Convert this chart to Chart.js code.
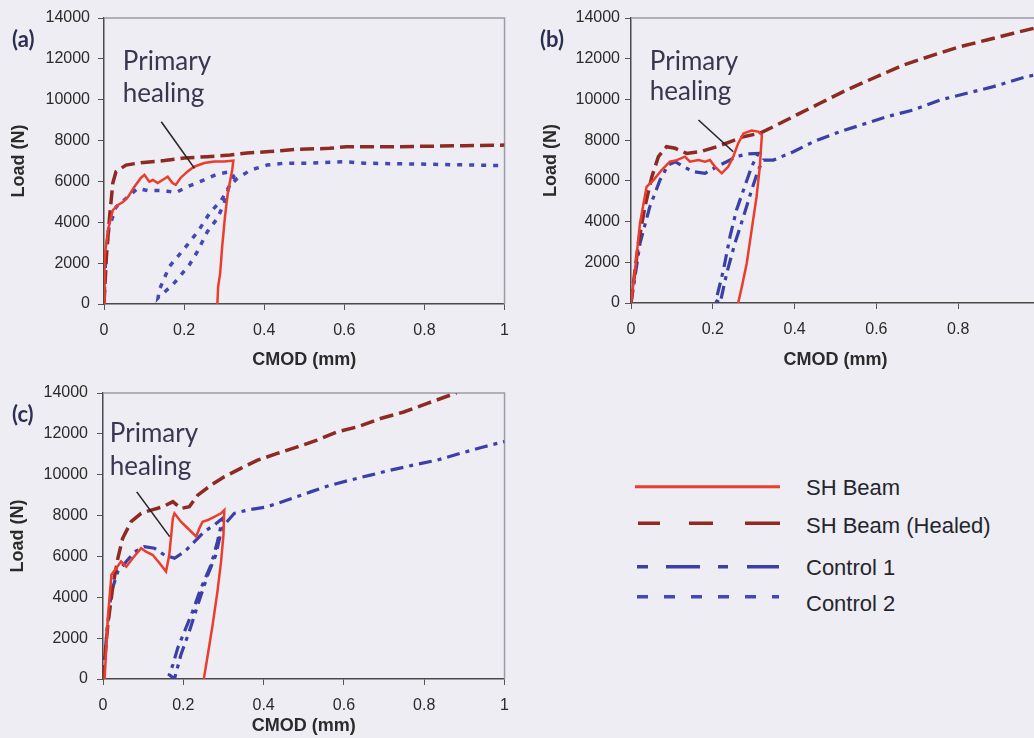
<!DOCTYPE html>
<html>
<head>
<meta charset="utf-8">
<script src="https://cdn.jsdelivr.net/npm/chart.js@4.4.1/dist/chart.umd.min.js"></script>
<style>
  html, body { margin: 0; padding: 0; background: #ededf3; width: 1034px; height: 738px; overflow: hidden; position: relative; }
  canvas { position: absolute; }
  #legend { position: absolute; left: 630px; top: 470px; }
  #legend text { font-family: 'Liberation Sans', Arial, sans-serif; font-size: 22px; fill: #25252e; }
</style>
</head>
<body>
<canvas id="panelA" width="520" height="380" style="left:0;top:0"></canvas>
<canvas id="panelB" width="520" height="380" style="left:540px;top:0"></canvas>
<canvas id="panelC" width="520" height="368" style="left:0;top:370px"></canvas>

<svg id="legend" width="400" height="150">
  <line x1="5" y1="16.7" x2="150" y2="16.7" stroke="#ea3d2e" stroke-width="3"/>
  <text x="176" y="17" dominant-baseline="central">SH Beam</text>
  <line x1="8" y1="53.3" x2="150" y2="53.3" stroke="#8e2a22" stroke-width="3.5" stroke-dasharray="22 29 24 32 35"/>
  <text x="176" y="55" dominant-baseline="central">SH Beam (Healed)</text>
  <line x1="7" y1="96.7" x2="149" y2="96.7" stroke="#3b40a8" stroke-width="3.5" stroke-dasharray="11 18 34 18 10 19 32"/>
  <text x="176" y="97" dominant-baseline="central">Control 1</text>
  <line x1="7" y1="126.7" x2="149" y2="126.7" stroke="#4348b6" stroke-width="3.5" stroke-dasharray="11 16"/>
  <text x="176" y="133" dominant-baseline="central">Control 2</text>
</svg>

<script>
// ---- axis tick labels ----
const xTickLabels = ['0', '0.2', '0.4', '0.6', '0.8', '1'];
const yTickLabels = ['0', '2000', '4000', '6000', '8000', '10000', '12000', '14000'];
const seriesNames = ['SH Beam', 'SH Beam (Healed)', 'Control 1', 'Control 2'];

// ---- panel (a): [CMOD (mm), Load (N)] ----
const a_shBeam = [[0,0],[0.001,830],[0.002,2300],[0.01,3620],[0.022,4600],[0.035,4850],[0.047,4990],[0.06,5240],[0.076,5740],[0.092,6170],[0.101,6320],[0.113,5990],[0.122,6070],[0.134,5920],[0.146,6070],[0.159,6230],[0.171,5920],[0.179,5830],[0.191,6170],[0.208,6480],[0.225,6720],[0.25,6900],[0.275,6970],[0.3,6970],[0.323,7020],[0.32,6560],[0.309,5420],[0.302,4270],[0.295,2800],[0.29,1500],[0.285,850],[0.283,0]];
const a_healed = [[0,0],[0.006,2320],[0.014,4270],[0.022,5920],[0.03,6480],[0.055,6800],[0.092,6920],[0.151,7020],[0.2,7150],[0.258,7210],[0.315,7290],[0.357,7390],[0.414,7460],[0.481,7570],[0.563,7620],[0.605,7700],[0.734,7700],[0.9,7750],[1,7780]];
const a_control1 = [];
const a_control2 = [[0,0],[0.004,2300],[0.012,3700],[0.03,4750],[0.06,5250],[0.084,5660],[0.109,5550],[0.151,5550],[0.179,5450],[0.208,5740],[0.25,6070],[0.283,6360],[0.316,6480],[0.324,6230],[0.312,5740],[0.291,5010],[0.266,4520],[0.237,3620],[0.208,2890],[0.184,2320],[0.163,1830],[0.138,690],[0.135,300],[0.138,360],[0.171,930],[0.192,1420],[0.213,1910],[0.233,2560],[0.258,3540],[0.283,4190],[0.3,4930],[0.312,5740],[0.333,6150],[0.366,6560],[0.407,6800],[0.448,6890],[0.514,6890],[0.563,6940],[0.6,6970],[0.652,6890],[0.817,6840],[1,6770]];

// ---- panel (b) ----
const b_shBeam = [[0,0],[0.01,1620],[0.022,3920],[0.038,5710],[0.055,6040],[0.075,6530],[0.095,6940],[0.112,7020],[0.132,7190],[0.144,6940],[0.165,7020],[0.181,6940],[0.193,7020],[0.205,6700],[0.222,6370],[0.238,6700],[0.25,7190],[0.262,7840],[0.275,8330],[0.295,8470],[0.311,8420],[0.32,8250],[0.315,6700],[0.307,5220],[0.295,3590],[0.283,1950],[0.271,800],[0.262,0]];
const b_healed = [[0,0],[0.018,2930],[0.034,4730],[0.051,6200],[0.067,7190],[0.087,7680],[0.108,7600],[0.136,7350],[0.169,7430],[0.21,7680],[0.242,7920],[0.275,8170],[0.315,8340],[0.356,8740],[0.405,9240],[0.462,9810],[0.527,10460],[0.592,11040],[0.666,11690],[0.739,12180],[0.804,12590],[0.87,12920],[0.935,13250],[0.984,13490],[1,13560]];
const b_control1 = [[0,0],[0.022,2930],[0.046,4730],[0.071,6040],[0.091,6780],[0.108,6940],[0.128,6700],[0.152,6450],[0.181,6370],[0.21,6700],[0.234,6940],[0.258,7190],[0.283,7320],[0.311,7350],[0.295,6700],[0.275,5550],[0.258,4570],[0.242,3260],[0.226,1620],[0.21,310],[0.205,150],[0.218,0],[0.234,1460],[0.254,2930],[0.275,4240],[0.295,5550],[0.311,6530],[0.324,7020],[0.348,7020],[0.397,7430],[0.446,7920],[0.511,8420],[0.576,8830],[0.625,9150],[0.69,9480],[0.755,9970],[0.821,10300],[0.886,10630],[0.967,11120],[1,11250]];
const b_control2 = [];

// ---- panel (c) ----
const c_shBeam = [[0.004,0],[0.012,2980],[0.021,5100],[0.033,5420],[0.045,5750],[0.058,5500],[0.074,5910],[0.095,6400],[0.107,6230],[0.124,6070],[0.141,5670],[0.157,5260],[0.165,6070],[0.174,7870],[0.178,8110],[0.194,7700],[0.211,7380],[0.232,6970],[0.24,7380],[0.248,7700],[0.261,7780],[0.277,7940],[0.294,8110],[0.302,8270],[0.3,7050],[0.294,5750],[0.285,4280],[0.273,2650],[0.261,1190],[0.251,0]];
const c_healed = [[0,0],[0.012,2650],[0.025,4610],[0.037,5910],[0.049,6890],[0.07,7700],[0.095,8110],[0.12,8270],[0.149,8430],[0.174,8680],[0.194,8350],[0.215,8430],[0.236,9000],[0.269,9490],[0.302,9900],[0.343,10310],[0.385,10710],[0.434,11040],[0.484,11360],[0.533,11690],[0.583,12100],[0.633,12340],[0.691,12750],[0.749,13070],[0.806,13480],[0.864,13890],[0.88,14000]];
const c_control1 = [[0,0],[0.01,2400],[0.021,4280],[0.037,5260],[0.058,5750],[0.079,6230],[0.103,6480],[0.128,6400],[0.153,6070],[0.178,5910],[0.203,6230],[0.228,6720],[0.252,7210],[0.277,7540],[0.298,7870],[0.285,6720],[0.269,5580],[0.244,4450],[0.223,3300],[0.203,2330],[0.186,1510],[0.174,700],[0.165,210],[0.178,0],[0.194,1190],[0.215,2330],[0.236,3630],[0.261,5100],[0.281,6070],[0.294,7210],[0.302,7540],[0.327,8110],[0.36,8270],[0.409,8430],[0.459,8760],[0.517,9160],[0.567,9490],[0.616,9740],[0.666,9980],[0.715,10220],[0.773,10470],[0.831,10710],[0.889,11040],[0.947,11360],[0.997,11610],[1,11620]];
const c_control2 = [];

// ---- line styles per series ----
const seriesStyles = [
  { borderColor: '#ea3d2e', borderWidth: 2.5, borderDash: [] },
  { borderColor: '#8e2a22', borderWidth: 3.5, borderDash: [14, 6] },
  { borderColor: '#3b40a8', borderWidth: 3.2, borderDash: [13, 6, 4, 6] },
  { borderColor: '#4348b6', borderWidth: 3.5, borderDash: [5, 7] }
];

Chart.defaults.font.family = "'Liberation Sans', Arial, sans-serif";
Chart.defaults.color = '#2b2b2b';

// Frame on the top and right of the plot area
const frameLines = {
  id: 'frameLines',
  beforeDatasetsDraw(chart) {
    const { ctx, chartArea: a } = chart;
    ctx.save();
    ctx.strokeStyle = '#9c9ca8';
    ctx.lineWidth = 1.5;
    ctx.beginPath();
    ctx.moveTo(a.left, a.top);
    ctx.lineTo(a.right, a.top);
    ctx.lineTo(a.right, a.bottom);
    ctx.stroke();
    ctx.restore();
  }
};

// Panel letter and the "Primary healing" callout
const panelNotes = {
  id: 'panelNotes',
  afterDraw(chart, args, opts) {
    const { ctx, scales: { x, y } } = chart;
    ctx.save();
    ctx.strokeStyle = '#262626';
    ctx.lineWidth = 1.6;
    ctx.beginPath();
    ctx.moveTo(x.getPixelForValue(opts.pointer[0][0]), y.getPixelForValue(opts.pointer[0][1]));
    ctx.lineTo(x.getPixelForValue(opts.pointer[1][0]), y.getPixelForValue(opts.pointer[1][1]));
    ctx.stroke();
    ctx.fillStyle = '#3b3550';
    ctx.font = '26px Lato';
    ctx.textBaseline = 'alphabetic';
    opts.lines.forEach((t, i) => {
      ctx.fillText(t, x.getPixelForValue(opts.at[i][0]), y.getPixelForValue(opts.at[i][1]));
    });
    ctx.fillStyle = '#2c2e52';
    ctx.font = 'bold 22px Lato';
    ctx.textBaseline = 'middle';
    ctx.fillText(opts.letter, opts.letterAt[0], opts.letterAt[1]);
    ctx.restore();
  }
};

function buildPanel(id, series, p) {
  const datasets = series.map((pts, i) => ({
    label: seriesNames[i],
    data: pts.map(([cx, ld]) => ({ x: cx, y: ld })),
    showLine: true,
    fill: false,
    pointRadius: 0,
    tension: 0,
    borderCapStyle: 'butt',
    ...seriesStyles[i]
  }));
  return new Chart(document.getElementById(id), {
    type: 'scatter',
    data: { datasets },
    plugins: [frameLines, panelNotes],
    options: {
      responsive: false,
      animation: false,
      events: [],
      layout: { padding: { left: 0, top: p.padTop, right: p.padRight, bottom: 0 } },
      plugins: {
        legend: { display: false },
        tooltip: { enabled: false },
        panelNotes: p.notes
      },
      scales: {
        x: {
          type: 'linear', min: 0, max: 1,
          afterFit(s) { s.height = p.xHeight; },
          border: { display: true, color: '#4a4a4a', width: 1.5 },
          grid: { drawOnChartArea: false, drawTicks: true, tickLength: 6, color: '#555' },
          ticks: {
            stepSize: 0.2, padding: 11, maxRotation: 0,
            font: { size: 16 },
            callback: (v, i) => xTickLabels[i]
          },
          title: { display: true, text: 'CMOD (mm)', font: { size: 18, weight: 'bold' }, padding: { top: 0, bottom: p.xTitlePad } }
        },
        y: {
          type: 'linear', min: 0, max: 14000,
          afterFit(s) { s.width = p.yWidth; },
          border: { display: true, color: '#4a4a4a', width: 1.5 },
          grid: { drawOnChartArea: false, drawTicks: true, tickLength: 6, color: '#555' },
          ticks: {
            stepSize: 2000, padding: p.yTickPad,
            font: { size: 16 },
            callback: (v, i) => yTickLabels[i]
          },
          title: { display: true, text: 'Load (N)', font: { size: 18, weight: 'bold' }, padding: { top: p.yTitlePad, bottom: 0 } }
        }
      }
    }
  });
}

buildPanel('panelA', [a_shBeam, a_healed, a_control1, a_control2], {
  padTop: 18, padRight: 13, yWidth: 104, xHeight: 76, yTickPad: 8, yTitlePad: 8, xTitlePad: 9,
  notes: { letter: '(a)', letterAt: [12, 40], lines: ['Primary', 'healing'],
           at: [[0.047, 11450], [0.047, 9900]], pointer: [[0.143, 8920], [0.226, 6640]] }
});

buildPanel('panelB', [b_shBeam, b_healed, b_control1, b_control2], {
  padTop: 18, padRight: 20, yWidth: 91, xHeight: 77, yTickPad: 5, yTitlePad: 0, xTitlePad: 9,
  notes: { letter: '(b)', letterAt: [0, 40], lines: ['Primary', 'healing'],
           at: [[0.046, 11450], [0.046, 9970]], pointer: [[0.165, 8990], [0.25, 7430]] }
});

buildPanel('panelC', [c_shBeam, c_healed, c_control1, c_control2], {
  padTop: 23, padRight: 14, yWidth: 103, xHeight: 59, yTickPad: 9, yTitlePad: 7, xTitlePad: 1,
  notes: { letter: '(c)', letterAt: [12, 45], lines: ['Primary', 'healing'],
           at: [[0.017, 11600], [0.017, 9980]], pointer: [[0.084, 9160], [0.166, 6970]] }
});
</script>
</body>
</html>
